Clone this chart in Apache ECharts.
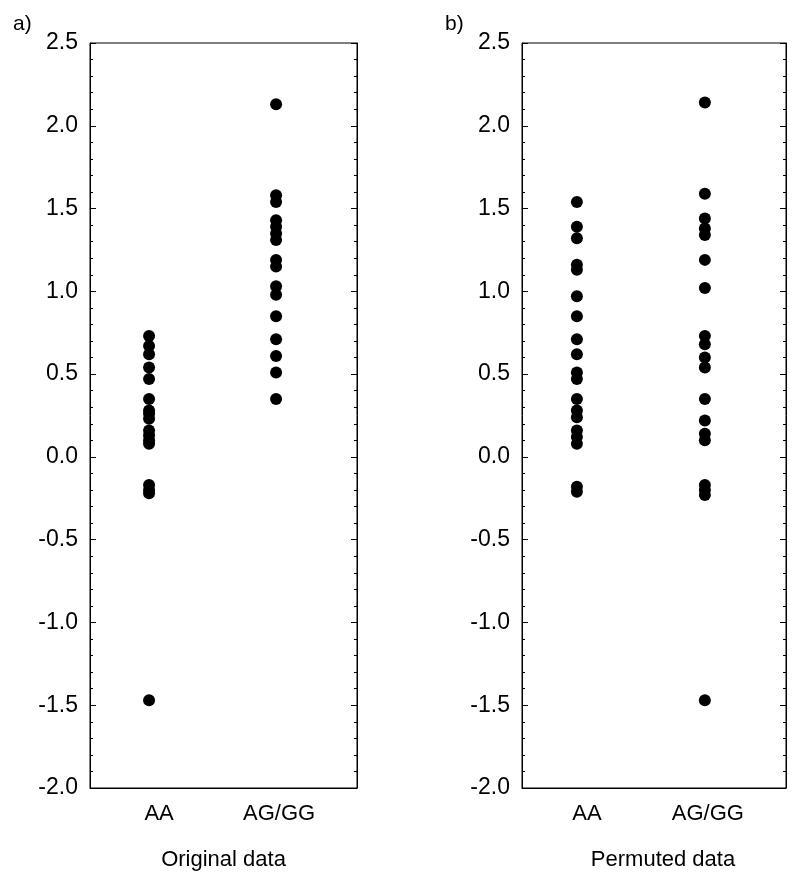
<!DOCTYPE html>
<html>
<head>
<meta charset="utf-8">
<script src="https://cdn.jsdelivr.net/npm/echarts@6/dist/echarts.min.js"></script>
<style>
  html, body { margin: 0; padding: 0; background: #fff; }
  #chart { width: 800px; height: 883px; }
</style>
</head>
<body>
<div id="chart"></div>
<script>
// genotype groups on the x axis
const categories = ['AA', 'AG/GG'];
const yTicks = [-2.0, -1.5, -1.0, -0.5, 0.0, 0.5, 1.0, 1.5, 2.0, 2.5];

// a) original data
const originalAA = [0.73, 0.67, 0.62, 0.54, 0.47, 0.35, 0.28, 0.26, 0.23, 0.16, 0.13, 0.10, 0.08, -0.17, -0.20, -0.22, -1.47];
const originalAGGG = [2.13, 1.58, 1.54, 1.43, 1.39, 1.35, 1.31, 1.19, 1.15, 1.03, 0.98, 0.85, 0.71, 0.61, 0.51, 0.35];

// b) permuted data
const permutedAA = [1.54, 1.39, 1.32, 1.16, 1.13, 0.97, 0.85, 0.71, 0.62, 0.51, 0.47, 0.35, 0.28, 0.24, 0.16, 0.12, 0.08, -0.18, -0.21];
const permutedAGGG = [2.14, 1.59, 1.44, 1.38, 1.34, 1.19, 1.02, 0.73, 0.68, 0.60, 0.54, 0.35, 0.22, 0.14, 0.10, -0.17, -0.20, -0.23, -1.47];

const FONT = '"Liberation Sans", Arial, sans-serif';

function points(values, groupIndex) {
    return values.map(v => [groupIndex + 1, v]);
}

function xAxisFor(gridIndex, name, min, max, namePad) {
    return {
        gridIndex: gridIndex,
        type: 'value',
        min: min,
        max: max,
        name: name,
        nameLocation: 'middle',
        nameGap: 61,
        nameTextStyle: { fontFamily: FONT, fontSize: 22, color: '#000', padding: [0, 0, 0, namePad] },
        axisLine: { show: true, onZero: false, lineStyle: { color: '#000', width: 1 } },
        axisTick: { show: false },
        splitLine: { show: false },
        axisLabel: {
            customValues: [1, 2],
            margin: 15,
            color: '#000',
            fontFamily: FONT,
            fontSize: 22,
            formatter: v => v === 1 ? '{a|' + categories[0] + '}' : '{b|' + categories[1] + '}',
            rich: {
                a: { fontFamily: FONT, fontSize: 22, color: '#000', padding: [0, 0, 0, 20] },
                b: { fontFamily: FONT, fontSize: 22, color: '#000', padding: [0, 0, 0, 6] }
            }
        }
    };
}

function yAxisFor(gridIndex, position) {
    return {
        gridIndex: gridIndex,
        type: 'value',
        position: position,
        min: yTicks[0],
        max: yTicks[yTicks.length - 1],
        interval: 0.5,
        axisLine: { show: true, onZero: false, lineStyle: { color: '#000', width: 1 } },
        axisTick: { show: true, inside: true, length: 6, lineStyle: { color: '#000' } },
        minorTick: { show: true, splitNumber: 5, length: 3, lineStyle: { color: '#000' } },
        splitLine: { show: false },
        axisLabel: {
            show: position === 'left',
            margin: 12,
            color: '#000',
            fontFamily: FONT,
            fontSize: 23,
            formatter: v => v.toFixed(1)
        }
    };
}

function dots(name, values, groupIndex, axisIndex) {
    return {
        name: name,
        type: 'scatter',
        xAxisIndex: axisIndex,
        yAxisIndex: axisIndex * 2,
        data: points(values, groupIndex),
        symbol: 'circle',
        symbolSize: 12,
        itemStyle: { color: '#000', opacity: 1 }
    };
}

const chart = echarts.init(document.getElementById('chart'), null, { renderer: 'canvas' });

const option = {
    backgroundColor: '#fff',
    animation: false,
    title: [
        { text: 'a)', left: 8, top: 9, textStyle: { fontFamily: FONT, fontSize: 21, fontWeight: 'normal', color: '#000' } },
        { text: 'b)', left: 440, top: 9, textStyle: { fontFamily: FONT, fontSize: 21, fontWeight: 'normal', color: '#000' } }
    ],
    grid: [
        { left: 90, top: 43, width: 267, height: 745, show: true, borderColor: '#000', borderWidth: 1 },
        { left: 522, top: 43, width: 264, height: 745, show: true, borderColor: '#000', borderWidth: 1 }
    ],
    xAxis: [
        xAxisFor(0, 'Original data', 0.535, 2.637, 0),
        xAxisFor(1, 'Permuted data', 0.571, 2.634, 18)
    ],
    yAxis: [
        yAxisFor(0, 'left'),
        yAxisFor(0, 'right'),
        yAxisFor(1, 'left'),
        yAxisFor(1, 'right')
    ],
    series: [
        dots('Original AA', originalAA, 0, 0),
        dots('Original AG/GG', originalAGGG, 1, 0),
        dots('Permuted AA', permutedAA, 0, 1),
        dots('Permuted AG/GG', permutedAGGG, 1, 1)
    ]
};

chart.setOption(option);
</script>
</body>
</html>
